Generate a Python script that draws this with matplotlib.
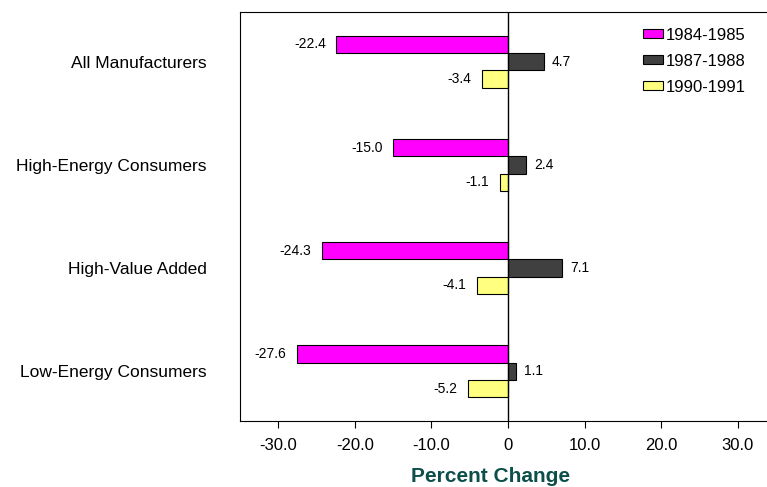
import numpy as np
import matplotlib.pyplot as plt

plt.rcParams['font.family'] = ['Liberation Sans', 'DejaVu Sans']

# データ
categories = ['All Manufacturers', 'High-Energy Consumers',
              'High-Value Added', 'Low-Energy Consumers']
periods = ['1984-1985', '1987-1988', '1990-1991']
v_1984 = [-22.4, -15.0, -24.3, -27.6]
v_1987 = [4.7, 2.4, 7.1, 1.1]
v_1990 = [-3.4, -1.1, -4.1, -5.2]
xticks = [-30, -20, -10, 0, 10, 20, 30]
xtick_labels = ['-30.0', '-20.0', '-10.0', '0', '10.0', '20.0', '30.0']


def main():
    fig = plt.figure(figsize=(7.67, 4.87), dpi=100)
    ax = fig.add_axes([240 / 767, 1 - 421 / 487, 536 / 767, 409 / 487])

    colors = ['#ff00ff', '#404040', '#ffff80']
    series = [v_1984, v_1987, v_1990]
    y = np.arange(len(categories))
    h = 0.168

    for i, (vals, col, lab) in enumerate(zip(series, colors, periods)):
        pos = y + (i - 1) * h
        ax.barh(pos, vals, height=h, color=col, edgecolor='black',
                linewidth=0.8, label=lab)
        for p, v in zip(pos, vals):
            if v < 0:
                ax.text(v - 1.4, p, f'{v:.1f}', ha='right', va='center', fontsize=10)
            else:
                ax.text(v + 1.0, p, f'{v:.1f}', ha='left', va='center', fontsize=10)

    ax.axvline(0, color='black', linewidth=1)
    ax.set_xlim(-35, 35)
    ax.set_ylim(3.48, -0.48)
    ax.set_xticks(xticks)
    ax.set_xticklabels(xtick_labels, fontsize=12)
    ax.set_yticks(y)
    ax.set_yticklabels(categories, fontsize=12.5)
    ax.tick_params(axis='y', length=0, pad=24)
    ax.tick_params(axis='x', length=5, direction='out', pad=7)
    ax.spines['right'].set_visible(False)

    ax.set_xlabel('Percent Change', fontsize=15, fontweight='bold',
                  color='#0d4f4a')
    ax.xaxis.set_label_coords(0.468, -0.112)

    ax.legend(loc='upper right', bbox_to_anchor=(0.965, 0.99), frameon=False,
              fontsize=12, handlelength=1.2, handleheight=0.45,
              handletextpad=0.15, labelspacing=0.66, borderaxespad=0.3)

    fig.savefig('out.png', dpi=100)
    plt.close(fig)


if __name__ == '__main__':
    main()
